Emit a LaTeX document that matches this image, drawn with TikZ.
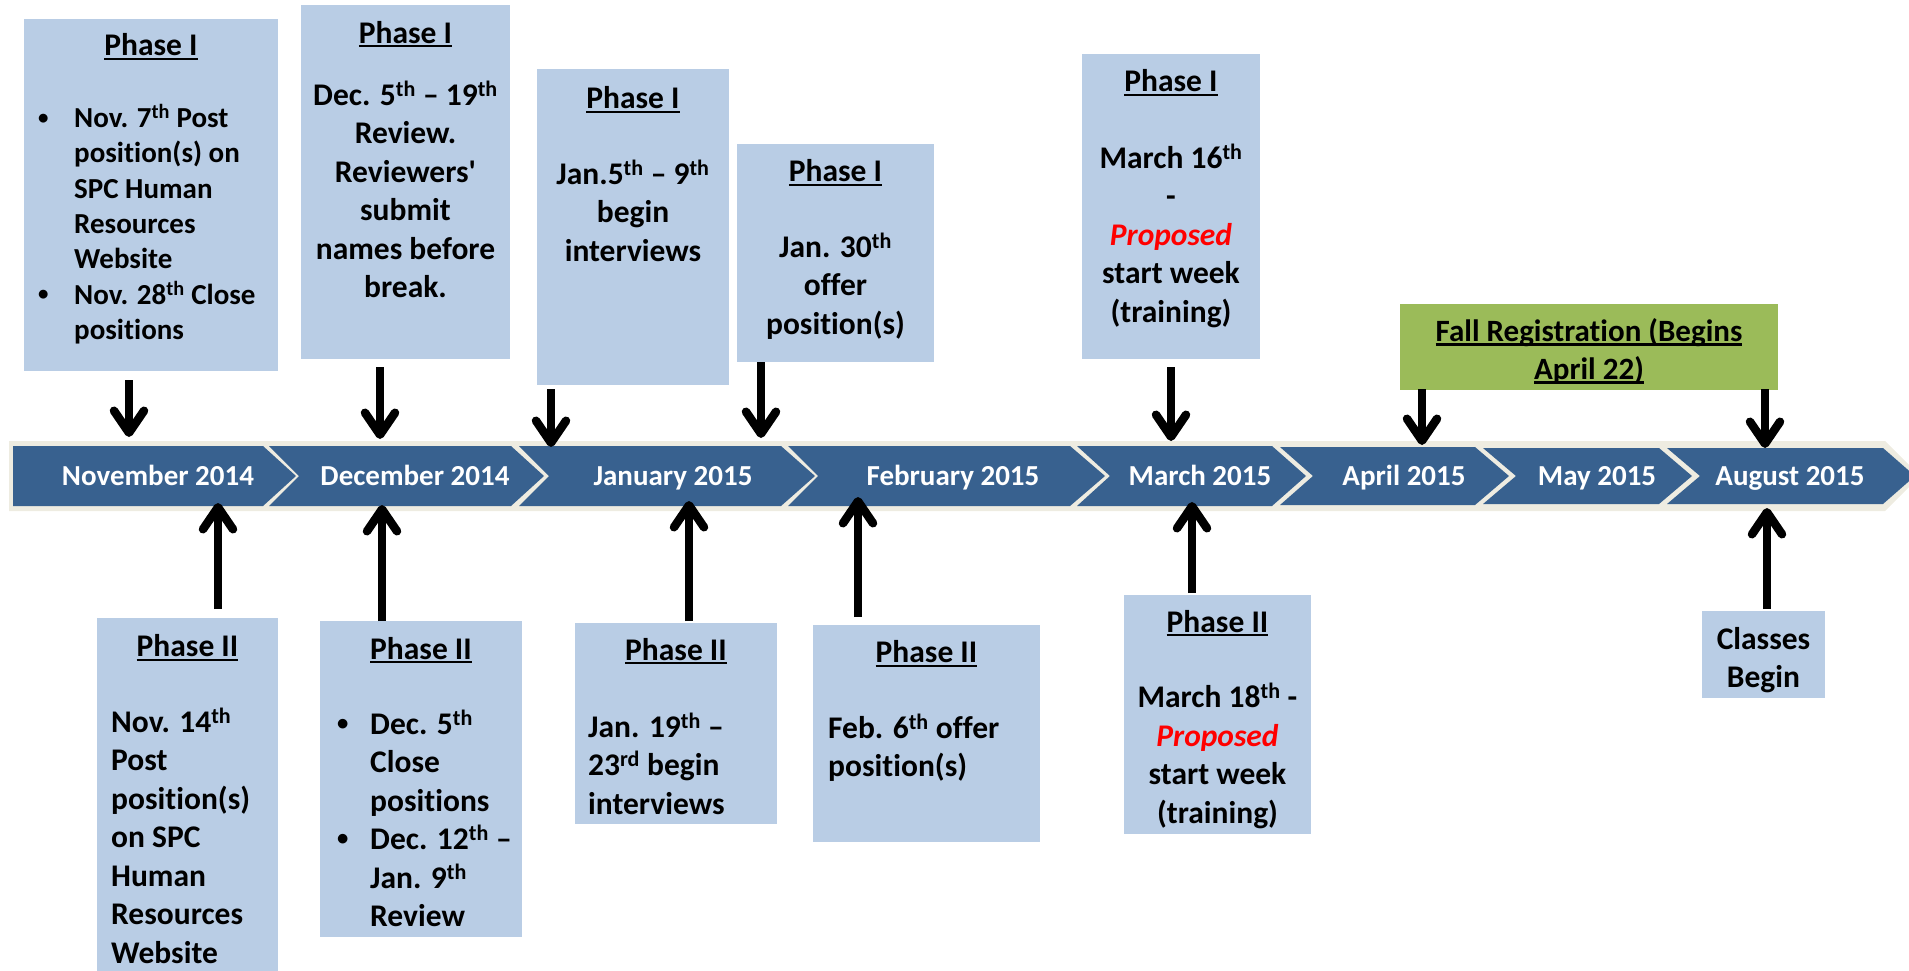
\documentclass[tikz,border=0pt]{standalone}
\usepackage{graphicx}
\usepackage{fontspec}
\setmainfont{Carlito}[Ligatures={TeXOff,CommonOff}]
\usetikzlibrary{arrows.meta}
\definecolor{boxblue}{HTML}{B9CDE5}
\definecolor{bandblue}{HTML}{38618F}
\definecolor{bandcream}{HTML}{EEECE1}
\definecolor{regreen}{HTML}{9BBB59}
\definecolor{propred}{HTML}{FF0000}
\newcommand\myul[1]{\begingroup\setbox0\hbox{#1}\rlap{\rule[-0.14em]{\wd0}{0.075em}}\box0\endgroup}
\newcommand\sps[1]{\textsuperscript{#1}}
\newcommand\bul[1]{\makebox[#1][l]{\raisebox{0.12em}{\scalebox{0.72}{•}}}}
\newcommand\prop{\textcolor{propred}{\itshape Proposed}}
\tikzset{
  infobox/.style={fill=boxblue, draw=none, inner sep=0pt, anchor=north west},
  greenbox/.style={fill=regreen, draw=none, inner sep=0pt, anchor=north west},
  fbig/.style={font=\fontsize{31.5}{38.5}\selectfont\bfseries},
  fsmall/.style={font=\fontsize{29}{35.3}\selectfont\bfseries},
  title/.style={fbig, inner sep=0pt, anchor=base},
  bodyc/.style={fbig, inner sep=0pt, anchor=north, align=center},
  bodyl/.style={fbig, inner sep=0pt, anchor=north west, align=left},
  month/.style={font=\fontsize{29}{35}\selectfont\bfseries, text=white, inner sep=0pt, anchor=base},
  arr/.style={line width=8.5pt, -{Straight Barb[length=22pt, width=30pt, round]}},
}
\begin{document}
\begin{tikzpicture}[x=1pt, y=-1pt]
\useasboundingbox (0,0) rectangle (1909,970);

% ---------- timeline band ----------
\fill[bandcream] (9,441) -- (1885,441) -- (1920,476) -- (1885,511) -- (9,511) -- cycle;
\fill[bandblue] (13,446) -- (263,446) -- (296,476) -- (263,506) -- (13,506) -- cycle;
\fill[bandblue] (269,446) -- (511,446) -- (544,476) -- (511,506) -- (269,506) -- (299,476) -- cycle;
\fill[bandblue] (519,446) -- (781,446) -- (815,476) -- (781,506) -- (519,506) -- (549,476) -- cycle;
\fill[bandblue] (788,446) -- (1070,446) -- (1105,476) -- (1070,506) -- (788,506) -- (818,476) -- cycle;
\fill[bandblue] (1077,446) -- (1272,446) -- (1306,476) -- (1272,506) -- (1077,506) -- (1110,476) -- cycle;
\fill[bandblue] (1280,447) -- (1475,447) -- (1509,476) -- (1475,505) -- (1280,505) -- (1313,476) -- cycle;
\fill[bandblue] (1483,448) -- (1659,448) -- (1692,476) -- (1659,504) -- (1483,504) -- (1516,476) -- cycle;
\fill[bandblue] (1667,448) -- (1883,448) -- (1915,476) -- (1883,504) -- (1667,504) -- (1700,476) -- cycle;

\node[month] (m1) at (158,485) {November 2014};
\node[month] (m2) at (415,485) {December 2014};
\node[month] (m3) at (673,485) {January 2015};
\node[month] (m4) at (953,485) {February 2015};
\node[month] (m5) at (1200,485) {March 2015};
\node[month] (m6) at (1404,485) {April 2015};
\node[month] (m7) at (1597,485) {May 2015};
\node[month] (m8) at (1790,485) {August 2015};

% ---------- top boxes ----------
\node[infobox, minimum width=254pt, minimum height=352pt] (b1) at (24,19) {};
\node[title] (b1t) at (151,55.6) {\myul{Phase I}};
\node[fsmall, inner sep=0pt, anchor=north west, align=left] (b1x) at (38,102.7)
  {\strut\bul{36pt}Nov. 7\sps{th} Post\\ \hspace*{36pt}position(s) on\\ \hspace*{36pt}SPC Human\\ \hspace*{36pt}Resources\\ \hspace*{36pt}Website\\ \bul{36pt}Nov. 28\sps{th} Close\\ \hspace*{36pt}positions};

\node[infobox, minimum width=209pt, minimum height=354pt] (b2) at (301,5) {};
\node[title] (b2t) at (405.5,43) {\myul{Phase I}};
\node[bodyc] (b2x) at (405.5,78)
  {\strut Dec. 5\sps{th} – 19\sps{th}\\ Review.\\ Reviewers'\\ submit\\ names before\\ break.};

\node[infobox, minimum width=192pt, minimum height=316pt] (b3) at (537,69) {};
\node[title] (b3t) at (633,108.6) {\myul{Phase I}};
\node[bodyc] (b3x) at (633,157)
  {\strut Jan.5\sps{th} – 9\sps{th}\\ begin\\ interviews};

\node[infobox, minimum width=197pt, minimum height=218pt] (b4) at (737,144) {};
\node[title] (b4t) at (835.5,181.7) {\myul{Phase I}};
\node[bodyc] (b4x) at (835.5,230)
  {\strut Jan. 30\sps{th}\\ offer\\ position(s)};

\node[infobox, minimum width=178pt, minimum height=305pt] (b5) at (1082,54) {};
\node[title] (b5t) at (1171,91.6) {\myul{Phase I}};
\node[bodyc] (b5x) at (1171,141)
  {\strut March 16\sps{th}\\ -\\ \prop\\ start week\\ (training)};

\node[greenbox, minimum width=378pt, minimum height=86pt] (g1) at (1400,304) {};
\node[font=\fontsize{31}{38}\selectfont\bfseries, inner sep=0pt, anchor=north, align=center] (g1x) at (1589,314.4)
  {\strut\myul{Fall Registration (Begins}\\ \myul{April 22)}};

% ---------- bottom boxes ----------
\node[infobox, minimum width=181pt, minimum height=360pt] (b6) at (97,618) {};
\node[title] (b6t) at (187.5,656.5) {\myul{Phase II}};
\node[bodyl] (b6x) at (111,705)
  {\strut Nov. 14\sps{th}\\ Post\\ position(s)\\ on SPC\\ Human\\ Resources\\ Website};

\node[infobox, minimum width=202pt, minimum height=316pt] (b7) at (320,621) {};
\node[title] (b7t) at (421,659) {\myul{Phase II}};
\node[bodyl] (b7x) at (337,707)
  {\strut\bul{33pt}Dec. 5\sps{th}\\ \hspace*{33pt}Close\\ \hspace*{33pt}positions\\ \bul{33pt}Dec. 12\sps{th} –\\ \hspace*{33pt}Jan. 9\sps{th}\\ \hspace*{33pt}Review};

\node[infobox, minimum width=202pt, minimum height=201pt] (b8) at (575,623) {};
\node[title] (b8t) at (676,660) {\myul{Phase II}};
\node[bodyl] (b8x) at (588,710)
  {\strut Jan. 19\sps{th} –\\ 23\sps{rd} begin\\ interviews};

\node[infobox, minimum width=227pt, minimum height=217pt] (b9) at (813,625) {};
\node[title] (b9t) at (926.5,662.6) {\myul{Phase II}};
\node[bodyl] (b9x) at (828,711)
  {\strut Feb. 6\sps{th} offer\\ position(s)};

\node[infobox, minimum width=187pt, minimum height=239pt] (b10) at (1124,595) {};
\node[title] (b10t) at (1217.5,632) {\myul{Phase II}};
\node[bodyc] (b10x) at (1217.5,680.6)
  {\strut March 18\sps{th} -\\ \prop\\ start week\\ (training)};

\node[infobox, minimum width=123pt, minimum height=87pt] (b11) at (1702,611) {};
\node[bodyc] (b11x) at (1763.5,622)
  {\strut Classes\\ Begin};

% ---------- arrows ----------
\coordinate (a1s) at (129,380);  \coordinate (a1e) at (129,437);
\coordinate (a2s) at (380,367);  \coordinate (a2e) at (380,439);
\coordinate (a3s) at (551,389);  \coordinate (a3e) at (551,447);
\coordinate (a4s) at (761,362);  \coordinate (a4e) at (761,438);
\coordinate (a5s) at (1171,367); \coordinate (a5e) at (1171,441);
\coordinate (a6s) at (1422,389); \coordinate (a6e) at (1422,445);
\coordinate (a7s) at (1765,389); \coordinate (a7e) at (1765,448);
\draw[arr] (a1s) -- (a1e);
\draw[arr] (a2s) -- (a2e);
\draw[arr] (a3s) -- (a3e);
\draw[arr] (a4s) -- (a4e);
\draw[arr] (a5s) -- (a5e);
\draw[arr] (a6s) -- (a6e);
\draw[arr] (a7s) -- (a7e);

\coordinate (u1s) at (218,609);  \coordinate (u1e) at (218,503);
\coordinate (u2s) at (382,621);  \coordinate (u2e) at (382,505);
\coordinate (u3s) at (689,621);  \coordinate (u3e) at (689,501);
\coordinate (u4s) at (858,617);  \coordinate (u4e) at (858,497);
\coordinate (u5s) at (1192,593); \coordinate (u5e) at (1192,502);
\coordinate (u6s) at (1767,609); \coordinate (u6e) at (1767,508);
\draw[arr] (u1s) -- (u1e);
\draw[arr] (u2s) -- (u2e);
\draw[arr] (u3s) -- (u3e);
\draw[arr] (u4s) -- (u4e);
\draw[arr] (u5s) -- (u5e);
\draw[arr] (u6s) -- (u6e);
\end{tikzpicture}
\end{document}
